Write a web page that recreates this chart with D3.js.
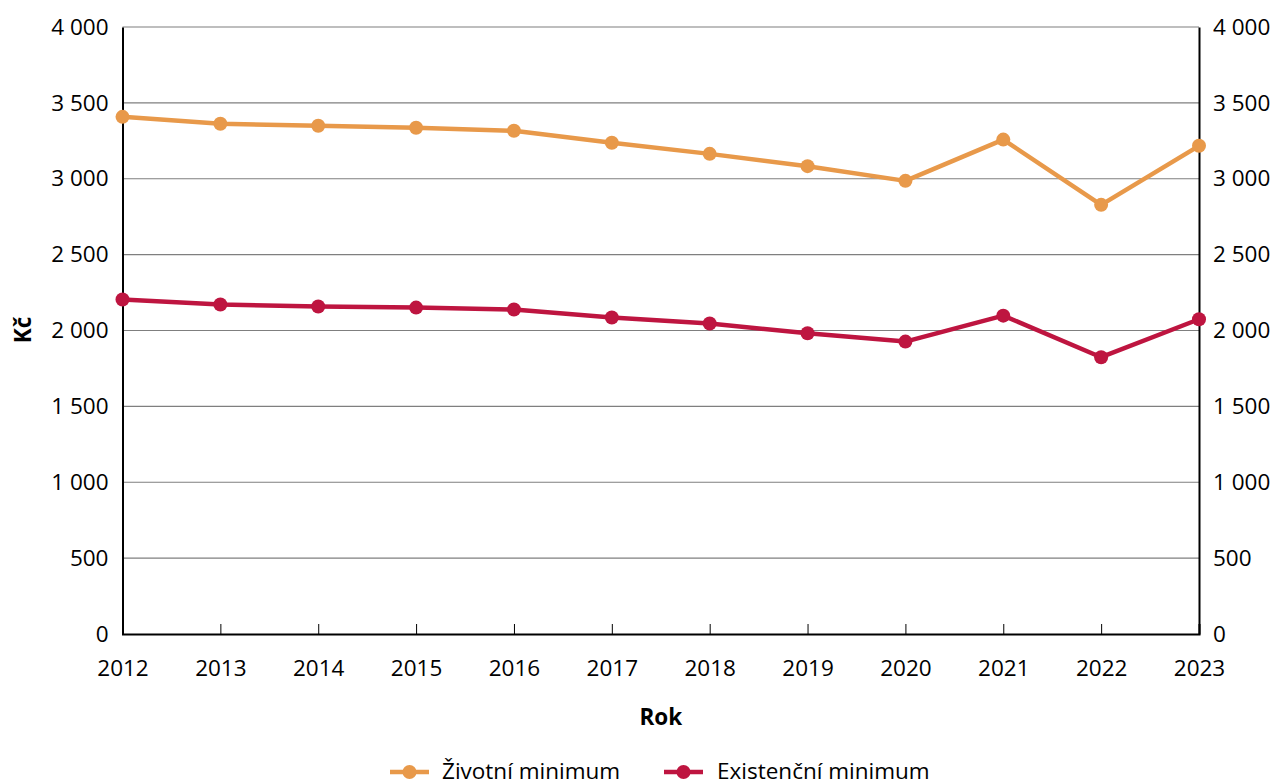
<!DOCTYPE html>
<html><head><meta charset="utf-8">
<script src="https://cdn.jsdelivr.net/npm/d3@7"></script>
<style>body{margin:0;background:#fff}svg{display:block}text{font-family:"Open Sans",sans-serif;fill:#000}</style>
</head><body><svg id="c" width="1277" height="782"></svg>
<script>
const years = [2012,2013,2014,2015,2016,2017,2018,2019,2020,2021,2022,2023];
const zivotni = [3408,3362,3349,3336,3316,3237,3164,3083,2986,3258,2828,3217];
const existencni = [2204,2171,2158,2151,2138,2086,2046,1982,1927,2098,1824,2074];
const yTicks = [0,500,1000,1500,2000,2500,3000,3500,4000];
const seriesNames = ["Životní minimum","Existenční minimum"];
const colors = ["#E8994A","#BE1540"];

const FS = "22.5px";
const svg = d3.select("#c");
const L=122.5, R=1199, T=27, B=634;
const x = d3.scalePoint().domain(years).range([L,R]);
const y = d3.scaleLinear().domain([0,4000]).range([B,T]);
const fmt = v => d3.format(",")(v).replace(/,/g," ");

// gridlines
svg.append("g").selectAll("line").data(yTicks.filter(d=>d>0)).join("line")
 .attr("x1",L).attr("x2",R).attr("y1",d=>y(d)).attr("y2",d=>y(d))
 .attr("stroke","#7f7f7f").attr("stroke-width",1.2);

function styleText(sel){ sel.selectAll("text").style("font-size",FS).style("font-family","'Open Sans',sans-serif").attr("fill","#000"); }
// left axis
const la = svg.append("g").attr("transform",`translate(${L},0)`)
 .call(d3.axisLeft(y).tickValues(yTicks).tickFormat(fmt).tickSize(0).tickPadding(14));
la.select(".domain").attr("stroke","#000").attr("stroke-width",2);
styleText(la);
// right axis
const ra = svg.append("g").attr("transform",`translate(${R},0)`)
 .call(d3.axisRight(y).tickValues(yTicks).tickFormat(fmt).tickSize(0).tickPadding(14));
ra.select(".domain").attr("stroke","#000").attr("stroke-width",2);
styleText(ra);
// bottom axis
const ba = svg.append("g").attr("transform",`translate(0,${B})`)
 .call(d3.axisBottom(x).tickSize(-10).tickPadding(26));
ba.select(".domain").attr("stroke","#000").attr("stroke-width",2);
ba.selectAll(".tick line").attr("stroke","#000").attr("stroke-width",1);
styleText(ba);

// titles
svg.append("text").attr("x",L+(R-L)/2).attr("y",725).attr("text-anchor","middle")
 .style("font-size",FS).style("font-weight","bold").text("Rok");
svg.append("text").attr("transform","translate(31,330) rotate(-90)").attr("text-anchor","middle")
 .style("font-size",FS).style("font-weight","bold").text("Kč");

// series
const data=[zivotni,existencni];
const line = d3.line().x((d,i)=>x(years[i])).y(d=>y(d));
data.forEach((s,k)=>{
  svg.append("path").datum(s).attr("d",line).attr("fill","none")
   .attr("stroke",colors[k]).attr("stroke-width",4.5).attr("stroke-linejoin","round");
  svg.append("g").selectAll("circle").data(s).join("circle")
   .attr("cx",(d,i)=>x(years[i])).attr("cy",d=>y(d)).attr("r",7).attr("fill",colors[k]);
});

// legend
const lg=[{x:390,tx:442},{x:664,tx:717}];
seriesNames.forEach((n,k)=>{
  const g=svg.append("g");
  g.append("line").attr("x1",lg[k].x).attr("x2",lg[k].x+39).attr("y1",772).attr("y2",772)
   .attr("stroke",colors[k]).attr("stroke-width",4.5);
  g.append("circle").attr("cx",lg[k].x+19.5).attr("cy",772).attr("r",7).attr("fill",colors[k]);
  g.append("text").attr("x",lg[k].tx).attr("y",771).attr("dy","0.35em").style("font-size",FS).text(n);
});
</script></body></html>
